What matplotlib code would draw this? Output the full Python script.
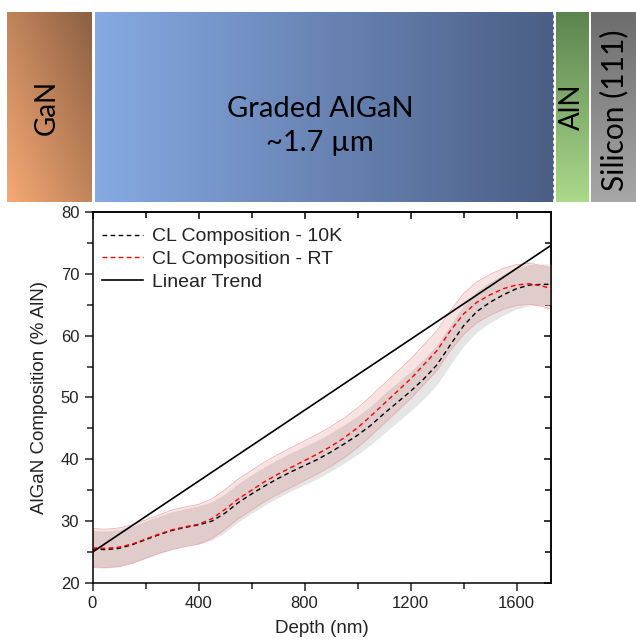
import numpy as np
import matplotlib
matplotlib.use("Agg")
import matplotlib.pyplot as plt
from matplotlib.ticker import MultipleLocator
from matplotlib.colors import to_rgb

# ---------------- data ----------------
depth = [0, 50, 100, 150, 200, 250, 300, 350, 400, 450, 500, 550, 600, 650, 700,
         750, 800, 850, 900, 950, 1000, 1050, 1100, 1150, 1200, 1250, 1300, 1350,
         1400, 1450, 1500, 1550, 1600, 1650, 1700, 1730]
comp_10k = [25.5, 25.4, 25.6, 26.2, 27.0, 27.8, 28.5, 29.0, 29.4, 30.0, 31.3, 33.0,
            34.4, 35.7, 36.9, 38.0, 39.0, 40.0, 41.2, 42.5, 43.9, 45.5, 47.4, 49.2,
            51.0, 53.0, 55.3, 58.5, 61.6, 63.9, 65.4, 66.6, 67.6, 68.2, 68.3, 68.3]
comp_rt = [25.7, 25.6, 25.8, 26.3, 27.1, 27.9, 28.6, 29.1, 29.5, 30.4, 31.9, 33.6,
           35.0, 36.4, 37.6, 38.7, 39.8, 40.9, 42.1, 43.5, 45.1, 47.0, 49.0, 51.0,
           53.0, 55.3, 57.6, 60.8, 63.5, 65.4, 66.6, 67.6, 68.2, 68.4, 68.0, 67.6]
err_10k = [3.0, 3.0, 3.0, 3.0, 3.0, 3.0, 3.0, 3.0, 3.1, 3.1, 3.1, 3.1, 3.1, 3.1, 3.1,
           3.1, 3.1, 3.1, 3.1, 3.1, 3.1, 3.1, 3.2, 3.2, 3.2, 3.2, 3.2, 3.2, 3.3, 3.3,
           3.3, 3.3, 3.3, 3.3, 3.3, 3.3]
err_rt = [3.1, 3.1, 3.1, 3.1, 3.1, 3.1, 3.2, 3.2, 3.2, 3.2, 3.2, 3.2, 3.2, 3.2, 3.2,
          3.2, 3.2, 3.2, 3.2, 3.2, 3.2, 3.2, 3.2, 3.2, 3.2, 3.2, 3.2, 3.2, 3.3, 3.3,
          3.3, 3.3, 3.3, 3.3, 3.3, 3.3]
trend_depth = [0, 1730]
trend_comp = [25.0, 74.6]

series_labels = ["CL Composition - 10K", "CL Composition - RT", "Linear Trend"]
layer_names = ["GaN", "Graded AlGaN\n~1.7 µm", "AlN", "Silicon (111)"]

# ---------------- figure ----------------
W, H = 636, 640
fig = plt.figure(figsize=(W / 100, H / 100), dpi=100)
fig.patch.set_facecolor("white")

# banner axes in pixel coordinates
bax = fig.add_axes([0, 0, 1, 1])
bax.set_xlim(0, W)
bax.set_ylim(H, 0)
bax.axis("off")

def grad(c0, c1, n=64, direction="h"):
    c0 = np.array(to_rgb(c0)); c1 = np.array(to_rgb(c1))
    t = np.linspace(0, 1, n)
    if direction == "h":
        img = c0[None, None, :] * (1 - t)[None, :, None] + c1[None, None, :] * t[None, :, None]
        img = np.repeat(img, 4, axis=0)
    elif direction == "v":
        img = c0[None, None, :] * (1 - t)[:, None, None] + c1[None, None, :] * t[:, None, None]
        img = np.repeat(img, 4, axis=1)
    else:  # diagonal: c0 at top-right, c1 at bottom-left
        xx, yy = np.meshgrid(t, t)
        s = np.clip((yy + (1 - xx)) / 2, 0, 1)
        img = c0[None, None, :] * (1 - s)[..., None] + c1[None, None, :] * s[..., None]
    return img

top, bot = 12, 202
layers = [
    (7, 92, grad("#8c6042", "#f6a975", direction="d")),
    (94.5, 553, grad("#86a9e2", "#4b5f86", direction="h")),
    (555.5, 588, grad("#5d8450", "#a9d98b", direction="v")),
    (591, 636, grad("#6d6d6d", "#a7a7a7", direction="v")),
]
for x0, x1, img in layers:
    bax.imshow(img, extent=[x0, x1, bot, top], aspect="auto", interpolation="bilinear", zorder=1)
for xb in [93.2, 554.2, 589.5]:
    bax.plot([xb, xb], [top, bot], color="white", lw=1.2, ls=(0, (2, 1.5)), zorder=2)

bfont = dict(family="Lato", color="black")
bax.text(47, 107, layer_names[0], rotation=90, ha="center", va="center",
         fontsize=20, **bfont)
bax.text(320, 126, layer_names[1], ha="center", va="center",
         fontsize=21, linespacing=1.42, **bfont)
bax.text(572, 107, layer_names[2], rotation=90, ha="center", va="center",
         fontsize=20, **bfont)
bax.text(614, 110, layer_names[3], rotation=90, ha="center", va="center",
         fontsize=21.5, **bfont)

# main plot
ax = fig.add_axes([92.5 / W, 1 - 583 / H, (551 - 92.5) / W, (583 - 212) / H])

d = np.array(depth)
k = np.array(comp_10k); r = np.array(comp_rt)
ek = np.array(err_10k); er = np.array(err_rt)

ax.fill_between(d, k - ek, k + ek, color="#e5e5e5", lw=0, zorder=1)
ax.fill_between(d, r - er, r + er, color="#d04040", alpha=0.15, lw=0, zorder=2)
ax.plot(d, r + er, color="#eab0b0", lw=0.6, zorder=2)
ax.plot(d, r - er, color="#eab0b0", lw=0.6, zorder=2)

ax.plot(d, k, color="black", lw=1.0, ls=(0, (3.4, 2.4)), label=series_labels[0], zorder=4)
ax.plot(d, r, color="red", lw=1.0, ls=(0, (3.4, 2.4)), label=series_labels[1], zorder=4)
ax.plot(trend_depth, trend_comp, color="black", lw=1.2, label=series_labels[2], zorder=5)

ax.set_xlim(0, 1730)
ax.set_ylim(20, 80)
ax.xaxis.set_major_locator(MultipleLocator(400))
ax.xaxis.set_minor_locator(MultipleLocator(200))
ax.yaxis.set_major_locator(MultipleLocator(10))
ax.yaxis.set_minor_locator(MultipleLocator(5))
ax.tick_params(which="both", direction="out", top=False, right=False, width=1.1,
               labelsize=12, colors="#222222")
ax.tick_params(which="major", length=6)
ax.tick_params(which="minor", length=4)
for lab in ax.get_xticklabels() + ax.get_yticklabels():
    lab.set_family("Liberation Sans")

ax2 = ax.secondary_xaxis("top")
ax2.xaxis.set_major_locator(MultipleLocator(400))
ax2.xaxis.set_minor_locator(MultipleLocator(200))
ax2.tick_params(which="both", direction="in", labeltop=False, width=1.1)
ax2.tick_params(which="major", length=5)
ax2.tick_params(which="minor", length=4)
ay2 = ax.secondary_yaxis("right")
ay2.yaxis.set_major_locator(MultipleLocator(10))
ay2.yaxis.set_minor_locator(MultipleLocator(5))
ay2.tick_params(which="both", direction="in", labelright=False, width=1.1)
ay2.tick_params(which="major", length=5)
ay2.tick_params(which="minor", length=4)
ax2.set_xticklabels([]); ay2.set_yticklabels([])

for s in ax.spines.values():
    s.set_linewidth(1.1)
for s in list(ax2.spines.values()) + list(ay2.spines.values()):
    s.set_linewidth(1.1)

ax.set_xlabel("Depth (nm)", fontsize=13.5, family="Liberation Sans", color="#222222", labelpad=6)
ax.set_ylabel("AlGaN Composition (% AlN)", fontsize=13.5, family="Liberation Sans", color="#222222",
              labelpad=9)

leg = ax.legend(loc="upper left", bbox_to_anchor=(0, 1 - 6 / 371), frameon=False, handlelength=2.1,
                borderaxespad=0.2, borderpad=0.3, labelspacing=0.27, handletextpad=0.45,
                prop={"family": "Liberation Sans", "size": 14})
for t in leg.get_texts():
    t.set_color("#222222")

fig.savefig("out.png", dpi=100, facecolor="white")
